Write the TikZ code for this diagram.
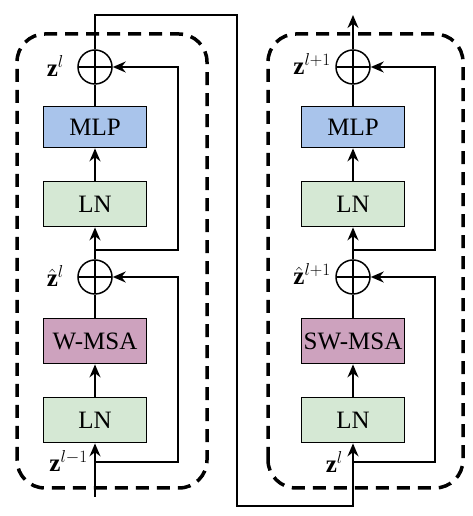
\documentclass[tikz,border=0pt]{standalone}
\usepackage{fontspec}
\setmainfont{Liberation Serif}
\usepackage{amsmath}
\usetikzlibrary{arrows.meta}
\definecolor{mlp-blue}{HTML}{A9C4EB}
\definecolor{ln-green}{HTML}{D5E8D4}
\definecolor{msa-pink}{HTML}{CDA2BE}

\begin{document}
\begin{tikzpicture}[x=1pt, y=1pt,
      every node/.style={font=\fontsize{25}{30}\selectfont},
      block/.style={draw, line width=1.8pt, minimum width=103pt,
          minimum height=45pt, inner sep=0pt},
      addop/.style={draw, circle, line width=1.5pt, minimum size=34pt,
          inner sep=0pt, path picture={\draw[line width=1.5pt]
          (path picture bounding box.north) -- (path picture bounding box.south)
          (path picture bounding box.west) -- (path picture bounding box.east);}},
      wire/.style={line width=1.7pt},
      flow/.style={wire, -{Stealth[length=13pt, width=11pt]}},
      frame/.style={draw, line width=3.5pt, dash pattern=on 13pt off 8pt,
          rounded corners=28pt}]
    \useasboundingbox (0,0) rectangle (472,516);
    % left block
    \draw[frame] (17,28) rectangle (207,482);
    \node[block, fill=ln-green] (LNa) at (95,96) {LN};
    \node[block, fill=msa-pink] (MSAa) at (95,175) {W-MSA};
    \node[addop] (ADDa) at (95,239) {};
    \node[block, fill=ln-green] (LNb) at (95,312) {LN};
    \node[block, fill=mlp-blue, minimum height=41pt] (MLPa) at (95,389) {MLP};
    \node[addop] (ADDb) at (95,449) {};
    \coordinate (INa) at (95,19);
    \coordinate (SPa) at (95,54);
    \coordinate (SKa) at (178,54);
    \coordinate (SPb) at (95,266);
    \coordinate (SKb) at (178,266);
    \draw[flow] (INa) -- (LNa.south);
    \draw[flow] (LNa) -- (MSAa);
    \draw[wire] (MSAa) -- (ADDa);
    \draw[flow] (ADDa) -- (LNb);
    \draw[flow] (LNb) -- (MLPa);
    \draw[wire] (MLPa) -- (ADDb);
    \draw[flow] (SPa) -- (SKa) |- (ADDa.east);
    \draw[flow] (SPb) -- (SKb) |- (ADDb.east);
    \node[anchor=base east, inner sep=0pt] (Zin) at (88,44) {$\mathbf{z}^{l-1}$};
    \node[anchor=base east, inner sep=0pt] (Zhat) at (64,229) {$\hat{\mathbf{z}}^{l}$};
    \node[anchor=base east, inner sep=0pt] (Zout) at (64,439) {$\mathbf{z}^{l}$};
    % right block
    \draw[frame] (268,28) rectangle (463,482);
    \node[block, fill=ln-green] (LNc) at (353,96) {LN};
    \node[block, fill=msa-pink] (MSAb) at (353,175) {SW-MSA};
    \node[addop] (ADDc) at (353,239) {};
    \node[block, fill=ln-green] (LNd) at (353,312) {LN};
    \node[block, fill=mlp-blue, minimum height=41pt] (MLPb) at (353,389) {MLP};
    \node[addop] (ADDd) at (353,449) {};
    \coordinate (SPc) at (353,54);
    \coordinate (SKc) at (435,54);
    \coordinate (SPd) at (353,266);
    \coordinate (SKd) at (435,266);
    \coordinate (OUTb) at (353,501);
    \draw[flow] (LNc) -- (MSAb);
    \draw[wire] (MSAb) -- (ADDc);
    \draw[flow] (ADDc) -- (LNd);
    \draw[flow] (LNd) -- (MLPb);
    \draw[wire] (MLPb) -- (ADDd);
    \draw[flow] (ADDd) -- (OUTb);
    \draw[flow] (SPc) -- (SKc) |- (ADDc.east);
    \draw[flow] (SPd) -- (SKd) |- (ADDd.east);
    \node[anchor=base east, inner sep=0pt] (Zinb) at (343,43) {$\mathbf{z}^{l}$};
    \node[anchor=base east, inner sep=0pt] (Zhatb) at (331,231) {$\hat{\mathbf{z}}^{l+1}$};
    \node[anchor=base east, inner sep=0pt] (Zoutb) at (331,441) {$\mathbf{z}^{l+1}$};
    % link between blocks
    \coordinate (TOPa) at (95,501);
    \coordinate (TOPb) at (237,501);
    \coordinate (BOTa) at (237,10);
    \coordinate (BOTb) at (353,10);
    \draw[flow] (ADDb.north) -- (TOPa) -- (TOPb) -- (BOTa) -- (BOTb) -- (LNc.south);
  \end{tikzpicture}
\end{document}
